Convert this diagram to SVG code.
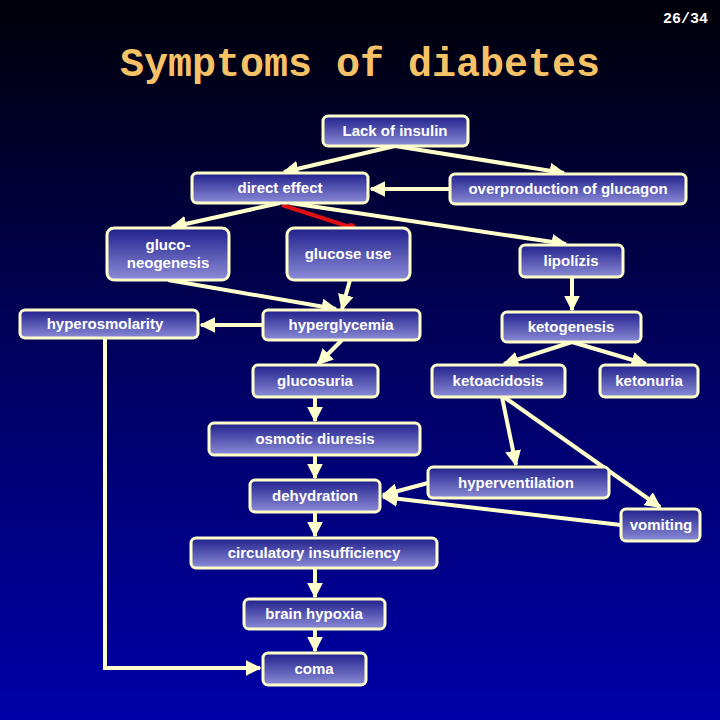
<svg xmlns="http://www.w3.org/2000/svg" width="720" height="720" viewBox="0 0 720 720">
<defs>
<linearGradient id="bg" x1="0" y1="0" x2="0" y2="1"><stop offset="0" stop-color="#000008"/><stop offset="0.5" stop-color="#000060"/><stop offset="1" stop-color="#0000a8"/></linearGradient>
<linearGradient id="box" x1="0" y1="0" x2="0" y2="1"><stop offset="0" stop-color="#20208c"/><stop offset="1" stop-color="#8c8cd8"/></linearGradient>
<marker id="ah" viewBox="0 0 10 10" refX="9" refY="5" markerWidth="4" markerHeight="4" orient="auto" markerUnits="strokeWidth"><path d="M0,0 L10,5 L0,10 z" fill="#ffffcc"/></marker>
</defs>
<style>
.n rect{fill:url(#box);stroke:#ffffcc;stroke-width:3}
.n text{fill:#fff;font-family:"Liberation Sans",sans-serif;font-weight:bold;font-size:15px;text-anchor:middle}
.c line,.c polyline{stroke:#ffffcc;stroke-width:4;fill:none;marker-end:url(#ah)}
</style>
<rect width="720" height="720" fill="url(#bg)"/>
<text x="360" y="76" fill="#f7c266" font-family="'Liberation Mono',monospace" font-weight="bold" font-size="40" text-anchor="middle">Symptoms of diabetes</text>
<text x="708" y="23" fill="#fff" font-family="'Liberation Mono',monospace" font-weight="bold" font-size="15" text-anchor="end">26/34</text>
<g class="c">
<line x1="395" y1="146" x2="284" y2="172"/>
<line x1="395" y1="146" x2="564" y2="173"/>
<line x1="450" y1="189" x2="371" y2="189"/>
<line x1="280" y1="203" x2="172" y2="227"/>
<line x1="290" y1="203" x2="566" y2="244"/>
<line x1="168" y1="280" x2="336" y2="309"/>
<line x1="350" y1="280" x2="342" y2="309"/>
<line x1="263" y1="325" x2="201" y2="325"/>
<polyline points="105,338 105,668 260,668"/>
<line x1="572" y1="277" x2="572" y2="310"/>
<line x1="342" y1="340" x2="318" y2="364"/>
<line x1="572" y1="342" x2="504" y2="364"/>
<line x1="572" y1="342" x2="646" y2="364"/>
<line x1="315" y1="397" x2="315" y2="421"/>
<line x1="502" y1="397" x2="516" y2="465"/>
<line x1="504" y1="397" x2="660" y2="507"/>
<line x1="428" y1="483" x2="383" y2="495"/>
<line x1="621" y1="525" x2="383" y2="497"/>
<line x1="315" y1="455" x2="315" y2="478"/>
<line x1="315" y1="512" x2="315" y2="536"/>
<line x1="315" y1="568" x2="315" y2="597"/>
<line x1="315" y1="629" x2="315" y2="651"/>
<line x1="282" y1="205" x2="350" y2="227" style="stroke:#e01010;marker-end:none"/>
<circle cx="351" cy="228" r="5" fill="#e01010"/>
</g>
<g id="lack" class="n"><rect x="323" y="116" width="145" height="30" rx="5"/><text x="395" y="136">Lack of insulin</text></g>
<g id="direct" class="n"><rect x="192" y="173" width="176" height="30" rx="5"/><text x="280" y="193">direct effect</text></g>
<g id="glucagon" class="n"><rect x="450" y="174" width="236" height="30" rx="5"/><text x="568" y="194">overproduction of glucagon</text></g>
<g id="gluconeo" class="n"><rect x="107" y="228" width="122" height="52" rx="7"/><text x="168" y="250">gluco-</text><text x="168" y="268">neogenesis</text></g>
<g id="glucoseuse" class="n"><rect x="287" y="228" width="123" height="52" rx="7"/><text x="348" y="259">glucose use</text></g>
<g id="lipolizis" class="n"><rect x="520" y="245" width="103" height="32" rx="5"/><text x="571" y="266">lipolízis</text></g>
<g id="hyperosm" class="n"><rect x="20" y="310" width="178" height="28" rx="5"/><text x="105" y="329">hyperosmolarity</text></g>
<g id="hyperglyc" class="n"><rect x="263" y="310" width="157" height="30" rx="5"/><text x="341" y="330">hyperglycemia</text></g>
<g id="ketogen" class="n"><rect x="502" y="312" width="139" height="30" rx="5"/><text x="571" y="332">ketogenesis</text></g>
<g id="glucosuria" class="n"><rect x="253" y="365" width="125" height="32" rx="5"/><text x="315" y="386">glucosuria</text></g>
<g id="ketoacid" class="n"><rect x="432" y="365" width="133" height="32" rx="5"/><text x="498" y="386">ketoacidosis</text></g>
<g id="ketonuria" class="n"><rect x="600" y="365" width="98" height="32" rx="5"/><text x="649" y="386">ketonuria</text></g>
<g id="osmotic" class="n"><rect x="209" y="423" width="211" height="32" rx="5"/><text x="315" y="444">osmotic diuresis</text></g>
<g id="dehyd" class="n"><rect x="250" y="480" width="130" height="32" rx="5"/><text x="315" y="501">dehydration</text></g>
<g id="hypervent" class="n"><rect x="428" y="467" width="181" height="31" rx="5"/><text x="516" y="488">hyperventilation</text></g>
<g id="vomiting" class="n"><rect x="621" y="509" width="79" height="32" rx="5"/><text x="661" y="530">vomiting</text></g>
<g id="circ" class="n"><rect x="191" y="538" width="246" height="30" rx="5"/><text x="314" y="558">circulatory insufficiency</text></g>
<g id="brain" class="n"><rect x="244" y="599" width="141" height="30" rx="5"/><text x="314" y="619">brain hypoxia</text></g>
<g id="coma" class="n"><rect x="263" y="653" width="103" height="32" rx="5"/><text x="314" y="674">coma</text></g>
</svg>
